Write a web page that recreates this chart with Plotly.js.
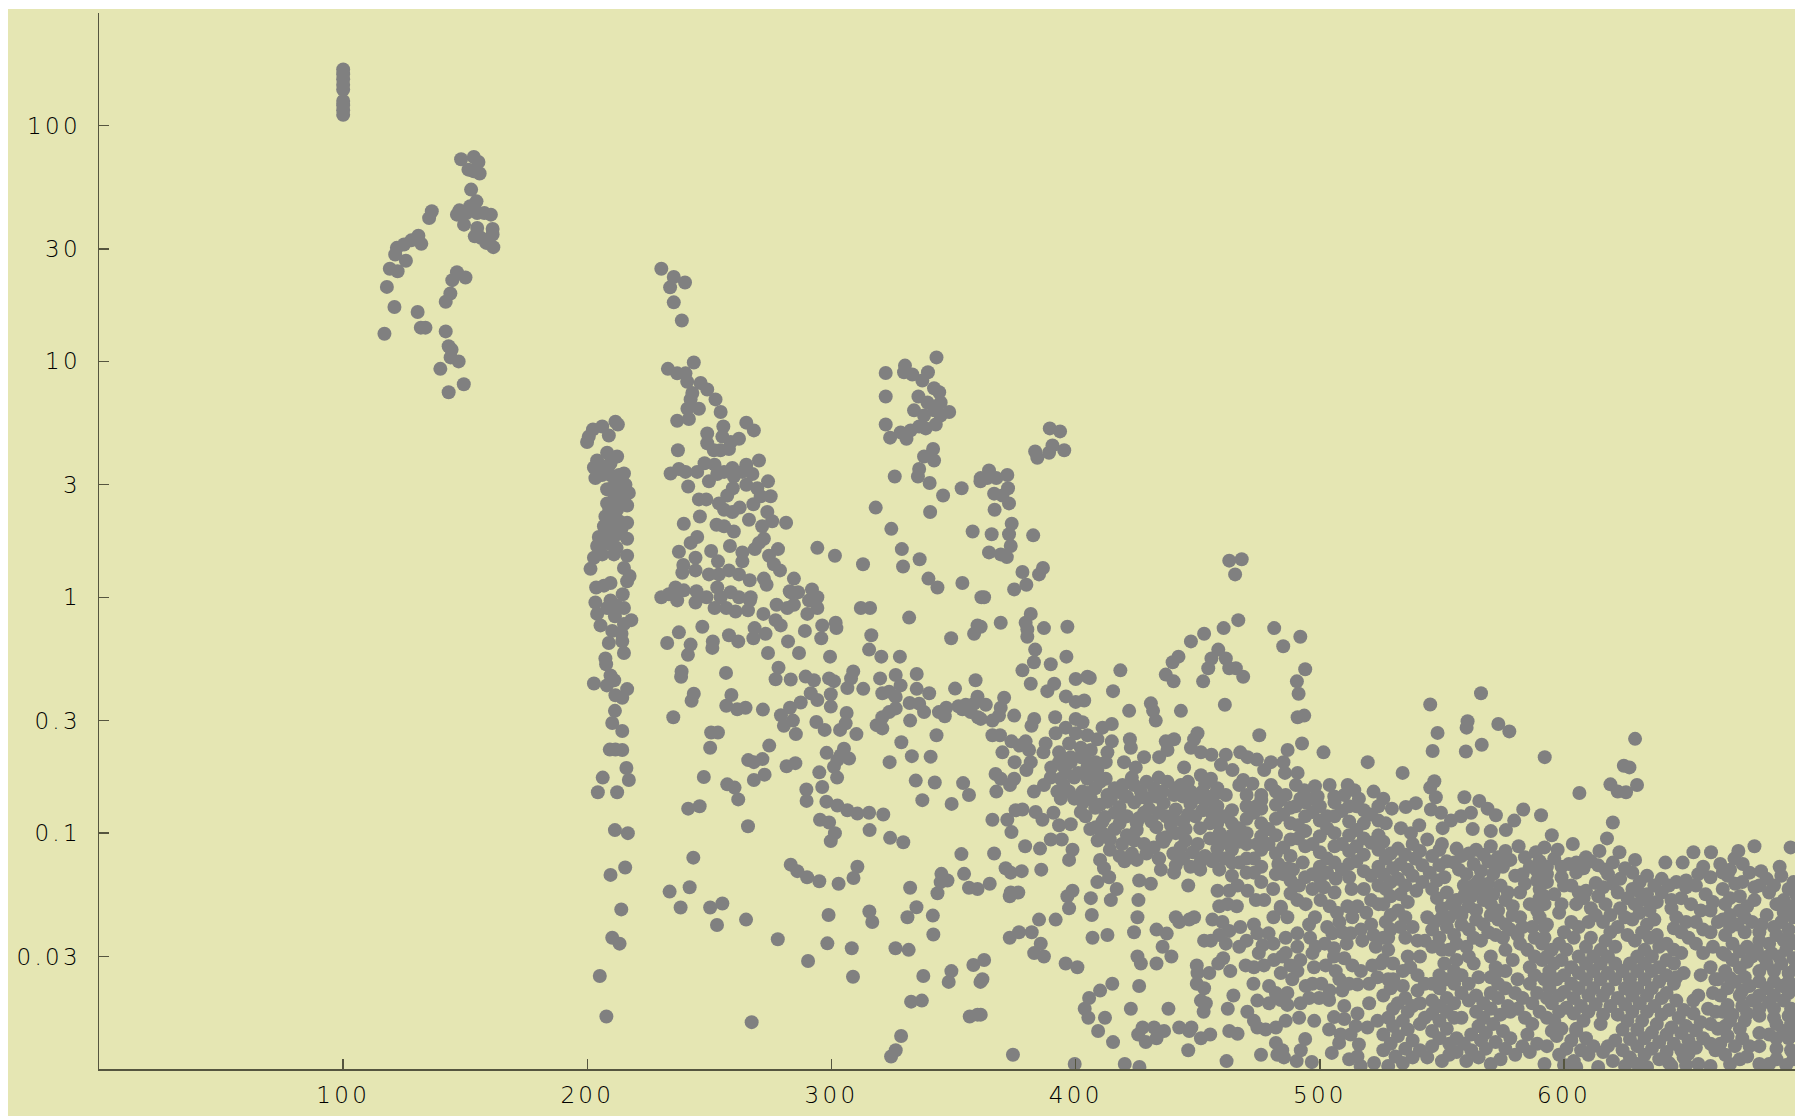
<!DOCTYPE html>
<html><head><meta charset="utf-8">
<script src="https://cdn.plot.ly/plotly-3.0.1.min.js"></script>
<style>html,body{margin:0;padding:0;background:#fff;overflow:hidden}#c{position:absolute;left:8px;top:9px;width:1787px;height:1107px}.xtick text,.ytick text{letter-spacing:3.3px}</style>
</head><body><div id="c"></div>
<script>
const xTicks=[100,200,300,400,500,600];
const yTicks=[0.03,0.1,0.3,1,3,10,30,100];
const yTickLabels=['0.03','0.1','0.3','1','3','10','30','100'];
const group100=[[100,173],[100,165],[100,157],[100,149],[100,142],[100,127],[100,122],[100,116],[100,111]];
const group150=[[116.9,13.1],[121,17],[117.9,20.7],[119.1,24.7],[122.3,24.1],[121.3,28.4],[125.7,26.7],[122,30.3],[124.9,31.3],[127.9,32.6],[130.8,34.1],[132,31.5],[135.2,40.5],[136.3,43.3],[130.5,16.2],[131.8,13.9],[133.7,13.9],[142,13.4],[143.2,11.6],[144.4,11.2],[144,10.4],[147.3,10],[139.8,9.3],[149.4,8],[143.2,7.4],[142,17.9],[143.9,19.4],[144.7,22.1],[146.6,23.9],[150.1,22.7],[148.3,72],[153.5,73.6],[155.4,70],[151.3,65],[153.5,64],[155.9,62.6],[152.4,53.5],[154.6,47.7],[152,45.5],[147.6,43.7],[146.6,41.9],[150.5,42.6],[154.9,42.6],[157.8,42.6],[160.5,41.9],[149.5,38],[154.9,36.8],[153.9,33.9],[156.4,33.4],[161.2,36.4],[161.2,34.5],[158.6,31.8],[161.5,30.5]];
const column210=[[212.5,5.4],[211.5,5.55],[208.8,4.85],[206.1,5.3],[202.3,5.15],[200.6,4.8],[199.9,4.55],[208.1,4.1],[212.2,3.95],[204,3.8],[202.7,3.55],[206,3.6],[203.3,3.2],[209.5,3.7],[215,3.35],[209.5,3.3],[211.5,3.1],[215.6,3],[208.1,2.87],[212.2,2.87],[217,2.77],[210.9,2.6],[215,2.6],[208.1,2.5],[216.3,2.45],[212.2,2.35],[207.4,2.2],[211.5,2.15],[216.3,2.07],[206.8,2],[210.9,1.97],[204.7,1.8],[208.1,1.85],[212.2,1.85],[216.3,1.77],[204,1.65],[209.5,1.68],[206.1,1.52],[210.9,1.52],[216.3,1.5],[202.7,1.47],[201.3,1.32],[215,1.33],[217.3,1.23],[216.3,1.17],[203.6,1.1],[206.8,1.12],[209.5,1.15],[214.5,1.03],[203.3,.95],[209.5,.97],[215,.9],[212,.92],[204,.85],[208.1,.9],[211.3,.83],[218,.8],[215,.77],[205.4,.76],[210.2,.72],[214,.7],[208.8,.64],[214.3,.65],[215,.58],[207.4,.55],[210,2.9],[213,2.75],[209,2.35],[213.5,2.5],[208,2.05],[213,2.1],[207,1.7],[212,1.62],[214,3.05],[206,3.3],[213,3.3],[210,1.75],[214,1.95]];
const column240=[[230.3,24.7],[235.4,22.8],[233.9,20.6],[240,21.6],[235.4,17.8],[238.7,14.9],[233,9.3],[243.6,9.9],[236.8,8.9],[240.2,8.9],[240.9,8.2],[246.4,8.1],[249.1,7.6],[243,7.35],[242.3,6.9],[245.7,6.3],[252.5,6.9],[254.6,6.1],[241,6.3],[241.6,5.7],[236.8,5.6],[255.7,5.3],[265.1,5.5],[268.2,5.1],[249.1,4.95],[249.1,4.5],[255.3,4.8],[262.1,4.7],[258.7,4.55],[258,4.25],[251.8,4.2],[254.5,4.2],[237.1,4.2],[234.1,3.35],[237.5,3.5],[240.2,3.4],[245,3.4],[248,3.7],[252.1,3.65],[249.8,3.1],[253.2,3.33],[259.4,3.53],[260,3.25],[265.1,3.65],[270.3,3.8],[267.6,3.33],[263.5,3.4],[256,3.4],[241.3,2.95],[245.7,2.6],[248.7,2.6],[253.9,2.5],[257.3,2.7],[259.6,2.9],[265.1,3],[269.6,2.9],[274,3.1],[275.1,2.68],[271,2.68],[268,2.48],[262.4,2.4],[259.4,2.3],[256,2.35],[246.1,2.2],[239.5,2.05],[252.9,2.03],[256,2],[260,1.9],[266.2,2.13],[273.7,2.3],[275.7,2.1],[281.4,2.07],[271.6,2],[245,1.8],[242.3,1.7],[272.3,1.77],[270.3,1.7],[258.4,1.65],[268.6,1.6],[237.5,1.56],[250.7,1.57],[263.5,1.55],[263.5,1.42],[253.5,1.42],[244.3,1.47],[278.1,1.6],[274.4,1.5],[276.4,1.38],[278.9,1.3],[239.3,1.37],[238.9,1.27],[244.3,1.3],[249.8,1.25],[253.9,1.25],[258,1.3],[262.1,1.25],[266.5,1.18],[272.3,1.2],[273.4,1.13],[284.6,1.2],[282.9,1.06],[236.1,1.1],[239.5,1.07],[244.7,1.06],[230.3,1],[233.4,1.03],[236.8,.97],[244.3,.95],[248.8,1],[253.2,1.1],[254.6,1],[258.7,1.05],[262.1,1],[266.9,1],[266.6,.97],[252.1,.9],[256.9,.9],[260.7,.87],[265.8,.88],[272.1,.85],[277.5,.93],[281.9,.9],[284.6,.93],[283.3,1.05],[286.3,1.05],[292,1.08],[294.2,1],[290.8,.97],[294.2,.9],[290.1,.85],[277.1,.8],[279.2,.76],[289.1,.72],[296.2,.76],[301.7,.78],[302,.74],[295.8,.67],[294.2,1.62],[301.4,1.5],[312.9,1.38],[312,.9],[315.8,.9],[331.8,.82],[316.3,.69],[315.4,.6],[320.4,.56],[328,.56],[349,.67],[358.4,.7],[359.8,.76],[237.5,.71],[247.1,.75],[232.7,.64],[242.3,.63],[241.2,.57],[251.4,.65],[251.2,.61],[258,.69],[261.8,.65],[268.5,.74],[268,.67],[273,.7],[282.2,.65],[274,.58],[286.7,.58],[299.4,.56]];
const group340=[[322.2,8.93],[330.1,9.6],[329.7,9],[343,10.4],[339.5,9],[333.1,8.8],[337.2,8.3],[342,7.7],[344.1,7.4],[335.6,7.1],[322.2,7.1],[339.3,6.7],[344.7,6.7],[333.8,6.2],[348.2,6.1],[342,6.2],[337.9,5.9],[344.7,5.9],[342.7,5.4],[335.9,5.3],[322.2,5.4],[332.4,5.1],[328.3,5],[324,4.75],[330.7,4.7],[338.6,5.2],[341.6,4.25],[337.9,3.95],[342,3.8],[335.9,3.5],[335.4,3.25],[325.9,3.25],[340.2,3.05],[345.7,2.7],[353.3,2.9],[361,3.1],[340.4,2.3],[357.8,1.9],[318.1,2.4],[324.5,1.95],[328.8,1.6],[336.1,1.45],[329.3,1.35],[339.7,1.2],[343.4,1.1],[353.6,1.15],[361.4,1]];
const lowerLeft=[[202.7,.431],[207.7,.52],[209.5,.466],[208,.423],[211,.445],[211.5,.384],[216.3,.408],[214.3,.375],[211.3,.33],[210.2,.293],[214.3,.271],[209.2,.226],[211.5,.226],[214.3,.225],[216,.189],[217,.168],[206.3,.172],[204.3,.149],[212.2,.149],[211.3,.103],[216.6,.1],[215.5,.0715],[209.5,.0665],[213.9,.0475],[210.2,.036],[213.2,.034],[205.1,.0248],[207.8,.0167],[238.6,.485],[238.4,.46],[243.6,.39],[242.7,.364],[235.2,.31],[250.7,.267],[253.5,.267],[250.3,.23],[247.7,.173],[241.3,.127],[246,.13],[243.4,.0787],[233.7,.0565],[241.9,.059],[238.2,.0484],[250.3,.0484],[255.3,.0503],[253.1,.0408],[265,.043],[256.8,.478],[265.8,.107],[278,.0355],[267.3,.0158],[290.4,.0287],[298.3,.0341],[298.8,.045],[308.3,.0325],[308.8,.0246],[326.2,.0325],[331.6,.032],[337.6,.0248],[349.1,.026],[348,.0234],[332.6,.0193],[337,.0195],[356.6,.0167],[359.8,.017],[328.5,.0138],[326.3,.012],[324.4,.0113],[358.1,.0276],[361,.0234],[341.7,.0372],[341.5,.0447],[334.8,.0485],[331.1,.044],[315.5,.0465],[316.7,.042],[332.2,.0587],[343.4,.0556],[344.7,.062],[345,.0672],[347.5,.063],[353.2,.0815],[354.3,.0672],[356.3,.0587],[359.8,.058],[310.6,.072],[309,.0645],[302.9,.061],[295,.0625],[290,.065],[286,.069],[283.3,.0735],[329.4,.0915],[324,.0955],[315.6,.103],[321.2,.12],[315.4,.122],[310.6,.121],[306.5,.125],[302.4,.131],[297.9,.136],[296.2,.157],[295.3,.114],[299,.111],[301.4,.1],[299.7,.0925],[289.7,.153],[289.8,.137],[295,.181],[302.3,.172],[261.8,.139],[260.3,.156],[257.3,.161],[268.2,.168],[272.6,.177],[265.9,.204],[268.2,.2],[271.7,.206],[274.5,.235],[281.6,.192],[285.2,.198],[298,.219],[302.4,.204],[305.1,.228],[307.2,.207],[301,.191],[303.8,.214],[323.8,.2],[328.6,.243],[332.9,.212],[340.6,.211],[334.5,.167],[342.3,.164],[337.2,.138],[353.9,.163],[356.3,.145],[349.2,.133],[343,.26],[350.6,.41],[332.2,.3],[271.9,.334],[256.9,.347],[259,.385],[261.4,.335],[264.8,.34],[279.3,.316],[280.5,.285],[284.2,.3],[285.4,.263],[283,.34],[287.4,.358],[291.5,.392],[294.2,.367],[299.7,.344],[299.7,.388],[293.8,.296],[297.2,.274],[303.5,.274],[306.2,.323],[305.8,.292],[310.2,.263],[277.1,.449],[278.3,.503],[283.3,.448],[289.4,.461],[292.8,.445],[299,.453],[301,.441],[308.9,.485],[308,.453],[306.5,.412],[313,.409],[319.9,.453],[320.8,.392],[323.6,.398],[326.3,.468],[328.3,.423],[326.3,.378],[334.9,.473],[334.9,.409],[340,.392],[332,.356],[335.9,.354],[337.9,.326],[326.3,.338],[323.6,.326],[320.8,.31],[318.5,.287],[320.8,.278],[344,.326],[346.4,.313],[346,.326],[353.6,.335],[358.4,.354],[357,.326],[359.8,.379],[360,.31],[359,.445],[355,.35],[352,.345],[347,.34]];
const middleUpper=[[389.4,5.2],[393.6,5.05],[390.5,4.4],[383.4,4.15],[384.3,3.9],[389.1,4.1],[395.3,4.2],[364.5,3.45],[361.1,3.2],[363.8,3.2],[367.5,3.2],[372,3.3],[372.3,2.9],[366.6,2.75],[370,2.7],[372.7,2.5],[366.8,2.35],[373.8,2.05],[365.6,1.85],[372.7,1.85],[382.6,1.83],[373.4,1.65],[364.5,1.55],[369.3,1.52],[371.8,1.48],[386.6,1.33],[385,1.25],[378.2,1.28],[379.8,1.13],[374.8,1.08],[362.5,1],[381.6,.85],[379.5,.78],[380.2,.73],[380.2,.68],[369.3,.78],[361.1,.75],[387,.74],[396.6,.75],[383.4,.6],[396.2,.56],[382.9,.53],[389.8,.52],[378.2,.49],[381.6,.43],[391.2,.43],[388.4,.4],[400,.45],[404.8,.46],[405.8,.455],[418.3,.49],[415.3,.4],[396,.38],[400,.36],[403.5,.365],[421.9,.33],[430.8,.355],[431.7,.33],[432.8,.3],[443.1,.33],[461.1,.35],[436.9,.47],[440.1,.44],[439.7,.53],[442.1,.56],[447.2,.65],[452.6,.7],[460.6,.74],[466.6,.8],[452.2,.44],[454.3,.5],[455.6,.55],[458.4,.6],[461.5,.55],[462.9,.5],[465.6,.5],[468.6,.46],[481.3,.74],[485,.62],[492,.68],[494,.495],[490.6,.44],[491.3,.39],[490.9,.31],[493.6,.315],[462.9,1.43],[468,1.45],[465.3,1.25],[475.2,.26],[492.7,.24],[501.5,.22],[486.8,.225],[519.6,.2],[449.9,.265],[448.5,.25],[447.2,.23],[451.3,.22],[455.6,.215],[461.5,.215],[459.5,.195],[464.2,.185],[467.4,.22],[470.4,.21],[474.2,.205],[480,.2],[477.2,.185],[485.1,.2],[485.7,.18],[490.9,.18],[468.6,.168],[472.4,.162],[490.2,.16],[493.6,.152],[511.4,.16],[514.1,.152],[499.1,.143],[505.9,.143],[482,.15],[440.3,.25],[436.9,.245],[437.6,.225],[434.2,.21],[428,.21],[422.2,.25],[422.6,.23],[424.6,.19],[419.8,.2],[444.4,.19],[451.3,.176],[455.4,.17],[414.8,.29],[411,.28],[414.8,.245],[400,.305],[402.8,.295],[391.6,.31],[383,.305],[381.9,.285],[374.8,.315],[370.7,.375],[363.2,.35],[369.3,.34],[368.6,.315],[365.9,.3],[361.1,.305],[365.9,.26],[369,.26],[373.7,.245],[379.5,.245],[377,.235],[370,.22],[375,.2],[380.9,.225],[387.7,.24],[386.8,.22],[381.6,.2],[379.8,.185],[367.2,.178],[369.3,.17],[374.8,.17],[373.1,.16],[367.5,.15],[382.9,.15],[391.8,.265],[395.9,.28],[400,.265],[404.8,.26],[408.9,.25],[393.2,.22],[397.3,.24],[402.1,.23],[406.2,.225],[413,.22],[393.2,.2],[398,.21],[402.1,.21],[408.2,.2],[412.3,.2],[395.3,.19],[404.8,.19],[408.9,.185],[389.8,.172],[393.9,.17],[399.4,.172],[404.8,.17],[412.3,.17],[387,.16],[392.5,.15],[397.3,.15],[402.8,.15],[393.9,.14],[399.4,.14],[406.2,.14],[413,.145],[419.2,.16],[423.9,.16],[419.8,.145],[426.7,.15],[432.1,.155],[437.6,.165],[443.1,.16],[435.6,.15],[440.3,.145],[447.2,.15],[451.9,.15],[456.7,.145],[461.5,.145],[448.5,.14],[429.4,.14],[414.4,.14],[396,.18],[401,.18],[407,.18],[390,.19],[398,.2],[405,.2],[408,.155],[416,.155],[395,.16],[410,.165]];
const middleSparse=[[365.9,.114],[372,.114],[373.7,.101],[375.4,.125],[378.2,.126],[383.6,.123],[386.4,.114],[390.9,.122],[393.2,.108],[398,.109],[402.1,.123],[408.2,.106],[389.8,.094],[394.3,.094],[379.3,.088],[385.4,.086],[366.6,.082],[398.7,.085],[397.3,.077],[371.3,.071],[373.4,.068],[377.9,.069],[385.9,.07],[364.8,.061],[373.4,.056],[376.5,.056],[373,.054],[398.7,.057],[396.6,.054],[406.2,.053],[397.3,.048],[406.6,.045],[414.4,.052],[385,.043],[391.8,.043],[376.8,.038],[382,.038],[373,.036],[385.7,.034],[383,.031],[387,.03],[362.5,.029],[361.8,.024],[361.1,.017],[406.9,.036],[413,.037],[395.9,.028],[400.7,.027],[374.3,.0115],[399.6,.0105],[410,.077],[411.6,.071],[413.7,.065],[416.8,.058],[408.9,.062],[426,.063],[430.8,.061],[425.7,.052],[425.3,.044],[423.9,.038],[433.1,.039],[437.3,.0375],[435.6,.033],[439.2,.03],[425.3,.03],[426.7,.028],[433.1,.028],[446.1,.06],[434.9,.07],[440.3,.068],[451,.07],[434.2,.078],[441,.044],[442.4,.042],[446.5,.043],[448.5,.044],[415,.023],[410,.0215],[405.5,.02],[403.7,.018],[405.2,.0165],[412,.0165],[409.2,.0145],[415.3,.013],[422.6,.018],[438,.018],[426,.0225],[427.4,.015],[425.6,.014],[428.7,.013],[432.1,.015],[433.1,.0135],[436.2,.0145],[442.4,.015],[447.4,.015],[446.5,.0145],[451.3,.0135],[455.1,.014],[446.1,.012],[420.1,.0105],[426.1,.0102],[461.8,.0108],[475.9,.0115],[449.6,.0275],[449.9,.0255],[454.7,.0255],[458.4,.028],[460.4,.0295],[463.3,.026],[449.6,.023],[452.6,.022],[451.3,.0195],[453.3,.019],[452.4,.0175],[464.6,.0205],[462.3,.018],[462.9,.0145],[466.3,.0141],[452.6,.035],[455.4,.035],[458.8,.037],[461.5,.034],[462.9,.0385],[456,.043],[460.1,.042],[467.4,.04],[458.1,.057],[458.8,.049],[462.2,.05],[466,.049],[462.9,.057],[466.3,.06],[470.4,.057],[473.8,.052],[477.2,.052],[480.9,.058],[482,.067],[486.8,.071],[458.8,.07]];
const band400=[[403,.135],[408,.128],[413,.136],[418,.129],[424,.135],[430,.127],[436,.134],[441,.126],[447,.133],[452,.125],[457,.131],[404,.118],[412,.117],[426,.116],[431,.112],[437,.118],[444,.112],[449,.118],[455,.11],[406,.104],[411,.1],[416,.104],[421,.098],[425,.103],[425,.11],[414,.094],[419,.09],[424,.093],[428,.09],[435.5,.095],[437,.096],[436,.092],[441,.1],[445,.093],[450,.09],[455,.095],[459,.1],[414,.085],[418,.08],[423,.082],[425,.077],[420,.076],[434,.078],[440,.082],[444,.078],[448,.083],[453,.08],[458,.086],[463,.09],[441,.073],[447,.072],[451,.075],[405,.148],[410,.132],[416,.122],[421,.118],[428,.122],[434,.122],[440,.116],[446,.12],[451,.105],[456,.12],[433,.106],[439,.108],[445,.104],[411,.112],[409,.093],[418,.11],[432,.087],[443,.087],[429,.082],[456,.076],[461,.078],[417,.15],[423,.172],[429,.165],[434,.172],[441,.155],[446,.165],[453,.162],[458,.155],[427,.142],[433,.143],[444,.143],[453,.137],[421,.143]];
const band460=[[458,.13],[458,.11],[458,.095],[458,.08],[464,.125],[464,.11],[464,.098],[464,.085],[464,.075],[464,.066],[470,.13],[470,.115],[470,.1],[470,.09],[470,.078],[470,.068],[476,.127],[476,.11],[476,.097],[476,.085],[476,.072],[476,.062],[476.6,.0335],[482,.132],[482,.115],[482,.098],[474.4,.09],[482,.082],[483,.074],[484,.048],[488,.128],[488,.11],[488,.094],[488,.08],[489,.07],[488,.063],[494,.135],[494,.118],[494,.102],[494,.088],[493,.075],[494,.065],[500,.13],[500,.113],[500,.097],[500,.083],[500,.072],[500,.064],[506,.135],[506,.118],[506,.1],[506,.088],[506,.075],[512,.13],[512,.112],[512,.098],[512,.084],[512,.074],[518,.125],[518,.11],[518,.095],[518,.081],[518,.069],[518,.058],[524,.13],[524,.113],[524,.098],[524,.085],[524,.072],[524,.06],[524,.05],[480,.16],[486,.145],[492,.14],[498,.158],[504,.16],[510,.145],[516,.14],[522,.15],[526,.14],[476,.145],[470,.145],[467,.16],[481,.044],[473,.041],[474.4,.0376],[479,.0376],[486,.036],[490.8,.0376],[495.6,.041],[496,.036],[498.3,.033],[490.8,.033],[486.7,.044],[484,.0488],[490.8,.052],[494.2,.05],[488,.0555],[491.5,.06],[500.3,.052],[501.7,.059],[506.5,.064],[512,.065],[507,.046],[511.3,.049],[515.4,.049],[513.3,.044],[521,.041],[505.1,.0376],[509.2,.038],[512.6,.0376],[516.8,.039],[511,.034],[517.4,.035],[505.8,.0325],[505.8,.03],[522.9,.033],[521.5,.0275],[469.6,.0275],[473,.027],[477.1,.0275],[481.2,.029],[484.6,.03],[488,.0275],[490.8,.026],[497.6,.027],[502.4,.0275],[506.5,.026],[508,.024],[509.2,.0215],[513.3,.0275],[515.4,.0228],[520.2,.023],[516.8,.026],[523.6,.0245],[472.8,.023],[479.2,.0225],[484,.0255],[488.7,.024],[482,.021],[486.7,.021],[494.2,.0225],[500.6,.023],[474.4,.0195],[470.3,.0175],[473,.016],[474.4,.015],[477.8,.0147],[482,.015],[486,.016],[491.5,.0165],[479.2,.019],[484,.0196],[486.7,.0187],[492.1,.019],[495.6,.02],[499.7,.02],[503.8,.0196],[497.7,.016],[505.8,.0166],[503.8,.0147],[510,.0185],[515.4,.0172],[520.2,.019],[519.5,.015],[523.6,.016],[510,.0163],[514.7,.0152],[508.5,.014],[512.6,.014],[516,.0127],[507.9,.0129],[504.9,.0117],[512,.011],[516.7,.0103],[522.2,.0106],[515.4,.0113],[482,.0129],[484.6,.012],[482.6,.0115],[485.3,.0112],[494,.0134],[492.2,.012],[490.5,.0108],[496.7,.0107],[475,.031],[481,.034],[486,.031],[492,.029],[497,.031],[502,.034],[508,.042],[519,.046],[522,.037],[498,.044],[503,.04],[467,.033],[470,.035],[461,.118],[467,.105],[473,.122],[479,.104],[485,.12],[491,.108],[497,.123],[503,.105],[509,.124],[515,.103],[521,.12],[461,.091],[467,.092],[473,.078],[479,.09],[485,.087],[491,.095],[497,.09],[503,.078],[509,.09],[515,.088],[521,.091],[467,.075],[473,.068],[485,.067],[497,.067],[503,.068],[509,.07],[515,.076],[521,.066],[497,.058],[506,.056],[513,.058],[521,.052],[504,.049],[476,.138],[484,.138],[490,.13],[497,.14],[503,.118],[515,.13],[474,.13]];
const topRight=[[545.2,.351],[566,.392],[548.2,.266],[560.5,.298],[560.1,.28],[546.2,.223],[559.8,.222],[566.3,.237],[573.1,.29],[577.6,.27],[592.1,.21],[533.9,.18],[546.9,.166],[545.2,.156],[606.3,.148],[629.1,.251],[624.5,.193],[626.8,.19],[619,.161],[622,.15],[625.4,.149],[629.9,.16],[620,.111],[547.5,.142],[559.2,.142],[565.3,.137],[568.7,.127],[572.1,.119],[583.3,.126],[590.6,.119],[579.6,.113],[539.3,.134],[529.5,.127],[535.2,.129],[527,.11],[545.5,.126],[549.6,.122],[561.9,.122],[557.8,.118],[553.7,.113],[540.7,.108],[533.2,.105],[537.3,.1],[550.3,.105],[562.6,.104],[570,.102],[576.2,.103],[581.4,.088],[595,.098],[603.6,.09],[592,.087],[588.5,.083],[617.6,.095],[622.7,.083],[614.5,.084],[597.4,.085],[609,.079],[629.1,.077],[641.5,.075],[653,.083],[660.2,.083],[671.4,.084],[678,.088],[692.8,.087],[673.2,.074],[669.8,.078],[648.6,.075],[680.7,.069],[688.3,.072],[670.1,.061],[630.2,.057],[665,.068],[678,.059]];
const denseA=[[526,.092],[532,.086],[538,.09],[544,.094],[550,.09],[556,.086],[527,.078],[533,.074],[539,.078],[546,.08],[552,.076],[558,.08],[564,.085],[570,.088],[576,.084],[526,.067],[532,.064],[538,.066],[545,.068],[551,.065],[557,.07],[563,.074],[569,.076],[575,.072],[527,.058],[533,.055],[539.5,.057],[546,.058],[552,.056],[559,.06],[565,.063],[571,.067],[526,.05],[532,.047],[550,.048],[556,.052],[562,.054],[568,.056],[574,.06],[580,.066],[586,.072],[527,.042],[533,.04],[547,.042],[553,.044],[558,.045],[564,.047],[570,.05],[576,.052],[582,.056],[526,.036],[543,.035],[549,.036],[555,.037],[561,.039],[567,.041],[573,.043],[579,.045],[586,.05],[530,.028],[536,.03],[541,.03],[553,.032],[560,.033],[566,.035],[572,.037],[578,.039],[583,.04],[526,.029],[534,.026],[540,.025],[551,.028],[556,.029],[563,.028],[570,.03],[576,.032],[582,.034],[588,.036],[528,.024],[534,.0225],[540,.0215],[546,.023],[552,.024],[558,.025],[570,.0245],[576,.026],[588,.03],[526,.0205],[532,.019],[538,.0185],[546,.0195],[552,.02],[558,.021],[564,.0205],[570,.021],[576,.022],[588,.025],[528,.0165],[534,.016],[546,.0172],[552,.0175],[564,.0175],[570,.018],[577,.0185],[583,.02],[589,.021],[526,.014],[532,.0138],[546,.0145],[552,.0148],[565,.0152],[571,.0155],[584,.0165],[590,.0175],[526,.012],[535,.0122],[541,.012],[546,.0125],[553,.0128],[559,.0128],[566,.0132],[572,.013],[578,.0135],[585,.014],[528,.0103],[534,.0106],[538,.0112],[550,.0108],[560,.0108],[565,.0112],[570,.0105],[574,.011],[580,.0115],[586,.0118],[592,.0105]];
const denseB=[[590,.076],[596,.078],[602,.074],[608,.071],[614,.073],[620,.075],[593,.067],[599,.065],[605,.068],[618,.067],[623,.064],[628,.068],[634,.066],[640,.064],[590,.058],[596,.055],[603,.06],[609,.057],[616,.059],[622,.056],[628,.058],[634,.055],[640,.056],[646,.062],[657,.072],[592,.05],[605,.05],[611,.048],[617,.05],[623,.048],[629,.05],[635,.047],[648,.053],[654,.06],[660,.065],[590,.044],[603,.042],[610,.042],[616,.042],[622,.04],[628,.043],[634,.041],[646,.044],[652,.05],[658,.055],[592,.036],[598,.034],[604,.036],[611,.036],[617,.035],[629,.035],[635,.036],[642,.034],[648,.038],[654,.042],[660,.047],[593,.03],[599,.029],[606,.03],[612,.03],[618,.03],[630,.03],[636,.03],[642,.029],[648,.031],[654,.034],[660,.038],[594,.026],[600,.025],[606,.0255],[612,.026],[618,.0255],[624,.026],[630,.026],[636,.026],[642,.025],[661,.033],[594,.022],[600,.0212],[606,.022],[612,.022],[618,.0218],[625,.022],[630,.022],[636,.022],[642,.021],[660,.027],[595,.019],[601,.0182],[607,.0185],[613,.0188],[619,.0185],[625,.0188],[631,.019],[637,.0185],[643,.0178],[649,.0178],[661,.021],[596,.016],[608,.016],[626,.016],[632,.016],[638,.0155],[644,.015],[650,.0152],[656,.0158],[662,.0175],[597,.0138],[603,.0132],[609,.0135],[621,.0132],[627,.0134],[633,.0135],[639,.013],[645,.0128],[651,.0132],[657,.0135],[663,.0148],[598,.0115],[604,.0108],[610,.0115],[616,.0118],[620,.0108],[627,.0112],[633,.0115],[639,.011],[643,.0106],[649,.0112],[662,.012],[600,.0104],[614,.0102],[625,.0103],[634,.0102],[644,.0103],[660,.0103]];
const denseC=[[664,.074],[668,.07],[676,.068],[683,.064],[689,.066],[694,.062],[665,.058],[672,.054],[678,.052],[684,.056],[690,.052],[695,.055],[666,.05],[672,.047],[690,.046],[694,.044],[665,.043],[671,.041],[677,.042],[686,.04],[692,.039],[666,.037],[680,.035],[684,.034],[690,.035],[695,.034],[665,.031],[672,.0315],[677,.03],[682,.0298],[688,.03],[694,.0295],[672,.0268],[680,.026],[686,.026],[692,.0255],[663,.024],[670,.0235],[676,.0225],[683,.022],[689,.0225],[695,.022],[664,.0205],[672,.0205],[677,.0195],[684,.0192],[690,.0195],[665,.0175],[669,.017],[675,.0172],[680,.0168],[686,.0165],[692,.0168],[666,.0152],[672,.0148],[684,.014],[690,.0145],[695,.014],[664,.0128],[670,.0125],[676,.0125],[687,.0122],[693,.012],[651,.0116],[668,.0105],[672,.011],[684,.0105],[691,.0104]];
const denseExtra=[[529,.082],[535,.081],[541,.084],[549,.085],[561,.082],[567,.081],[573,.079],[530,.071],[536,.07],[542,.073],[549,.073],[555,.075],[560,.067],[566,.069],[572,.071],[578,.077],[584,.079],[529,.062],[535,.06],[542,.062],[548,.063],[563,.06],[569,.061],[583,.067],[589,.069],[529,.054],[536,.051],[548,.053],[554,.05],[559,.054],[565,.058],[571,.055],[577,.056],[584,.061],[589,.063],[529,.045],[535,.044],[550,.044],[556,.047],[561,.049],[567,.052],[573,.047],[579,.049],[590,.053],[529,.039],[546,.039],[552,.04],[558,.041],[564,.043],[570,.045],[576,.041],[582,.044],[589,.047],[528,.032],[546,.033],[550,.032],[556,.034],[563,.036],[569,.038],[575,.036],[581,.037],[587,.04],[530,.024],[537,.027],[543,.023],[549,.025],[555,.026],[561,.03],[572,.027],[579,.029],[585,.032],[591,.034],[529,.022],[535,.02],[541,.019],[549,.022],[555,.023],[561,.023],[573,.023],[586,.027],[591,.029],[530,.018],[536,.0175],[549,.0185],[555,.019],[561,.0195],[567,.019],[573,.02],[580,.021],[586,.023],[592,.024],[530,.0152],[536,.0147],[549,.016],[555,.0165],[567,.0165],[574,.017],[581,.018],[587,.019],[593,.02],[529,.0128],[538,.0132],[549,.0135],[556,.0135],[562,.014],[568,.0142],[575,.0145],[587,.0155],[593,.0165],[531,.0113],[544,.0112],[556,.0118],[562,.012],[568,.0122],[576,.0122],[583,.0125],[589,.0128],[595,.0145],[593,.0125],[593,.072],[599,.072],[605,.075],[611,.076],[617,.07],[625,.071],[631,.062],[637,.06],[643,.06],[593,.062],[600,.06],[606,.056],[620,.061],[626,.053],[632,.052],[638,.051],[644,.052],[650,.063],[655,.067],[592,.054],[599,.05],[608,.053],[614,.054],[619,.045],[625,.044],[631,.046],[637,.043],[644,.048],[592,.04],[600,.038],[606,.04],[613,.045],[619,.038],[626,.037],[632,.038],[638,.037],[650,.042],[656,.047],[661,.051],[595,.032],[601,.032],[609,.033],[615,.032],[621,.033],[633,.032],[639,.033],[645,.032],[651,.036],[657,.039],[663,.042],[596,.028],[603,.027],[609,.028],[615,.028],[621,.028],[627,.028],[633,.028],[639,.027],[645,.028],[657,.031],[597,.024],[603,.023],[609,.024],[615,.024],[621,.024],[627,.024],[633,.024],[639,.0235],[645,.023],[662,.024],[598,.0205],[604,.02],[610,.0205],[616,.0205],[622,.02],[628,.0205],[634,.0205],[640,.02],[646,.0195],[655,.0205],[598,.0175],[604,.0172],[610,.0175],[616,.017],[622,.017],[628,.0175],[634,.0175],[640,.017],[647,.0165],[653,.0172],[659,.018],[599,.0148],[605,.0148],[612,.0125],[624,.0147],[630,.0147],[636,.0143],[642,.014],[648,.0142],[654,.0146],[660,.0155],[601,.0122],[607,.012],[618,.0125],[624,.012],[630,.0125],[636,.0122],[642,.0118],[648,.012],[654,.0123],[660,.0128],[605,.0102],[630,.0105],[650,.0104],[655,.0105],[667,.066],[673,.062],[680,.06],[686,.06],[692,.058],[668,.053],[675,.049],[687,.05],[693,.049],[668,.045],[674,.044],[689,.042],[668,.04],[674,.038],[680,.038],[687,.037],[692,.036],[669,.034],[675,.033],[679,.032],[685,.031],[691,.032],[669,.029],[675,.0285],[683,.028],[689,.028],[695,.027],[666,.026],[674,.0245],[680,.0235],[686,.0235],[692,.0235],[667,.022],[673,.0215],[680,.0205],[686,.0205],[692,.021],[667,.0187],[673,.0185],[680,.018],[686,.018],[693,.018],[668,.016],[674,.016],[687,.0155],[693,.0155],[667,.0138],[673,.0135],[680,.0142],[687,.0135],[692,.0135],[666,.0115],[675,.0113],[687,.011],[694,.011],[680,.0105]];
const denseFill=[[649,.0255],[656,.025],[543,.0165],[541,.0155],[512,.023],[510,.0295],[504,.0215],[497,.023],[525,.028],[528,.036],[535,.036],[540,.035],[538,.04],[544,.044],[646,.0245],[653,.0195],[593,.041],[598,.046],[613,.0615],[605,.0145],[615,.0155],[558,.0165],[553,.0115],[572,.0255],[565,.0245],[581,.024],[578,.0175],[666,.0305],[650,.059],[636,.05],[645,.0395],[683,.045],[681,.041],[668,.0243],[680,.0125]];
const points=[].concat(group100,group150,column210,column240,group340,lowerLeft,middleUpper,middleSparse,band400,band460,topRight,denseA,denseB,denseC,denseExtra,denseFill);
const xValues=points.map(p=>p[0]);
const yValues=points.map(p=>p[1]);
const axisColor='#55553f';
const tickFont={family:'"DejaVu Sans Light","DejaVu Sans",sans-serif',size:23,color:'#000'};
Plotly.newPlot('c',[{type:'scatter',mode:'markers',x:xValues,y:yValues,marker:{size:14,color:'#808080',line:{width:0}},hoverinfo:'skip'}],{
  width:1787,height:1107,paper_bgcolor:'#e5e6b3',plot_bgcolor:'#e5e6b3',showlegend:false,
  margin:{l:90.6,r:0,t:4.3,b:47,pad:0},
  xaxis:{type:'linear',range:[0,694.6],tickmode:'array',tickvals:xTicks,ticktext:xTicks.map(String),ticks:'inside',ticklen:10,tickwidth:1.5,tickcolor:axisColor,showgrid:false,zeroline:false,showline:true,linecolor:axisColor,linewidth:1.5,tickfont:tickFont,ticklabelstandoff:5},
  yaxis:{type:'log',range:[-2,Math.log10(300)],tickmode:'array',tickvals:yTicks,ticktext:yTickLabels,ticks:'inside',ticklen:10,tickwidth:1.5,tickcolor:axisColor,showgrid:false,zeroline:false,showline:true,linecolor:axisColor,linewidth:1.5,tickfont:tickFont,ticklabelstandoff:12}
},{staticPlot:true,displayModeBar:false});
</script></body></html>
